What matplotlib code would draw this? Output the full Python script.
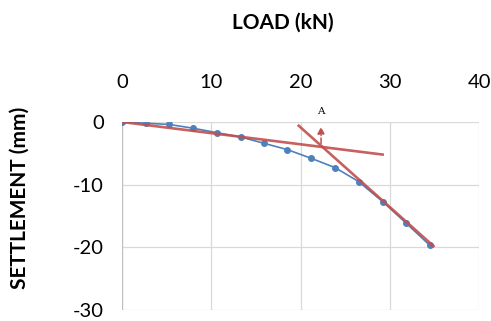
import matplotlib.pyplot as plt

# load-settlement test data
load = [0, 2.7, 5.3, 8.0, 10.6, 13.3, 15.9, 18.5, 21.2, 23.9, 26.5, 29.2, 31.8, 34.5]
settlement = [0, -0.2, -0.4, -1.0, -1.7, -2.4, -3.4, -4.4, -5.8, -7.3, -9.5, -12.7, -16.1, -19.7]

# tangent lines
line1_x = [0, 29.2]
line1_y = [0, -5.2]
line2_x = [19.8, 34.9]
line2_y = [-0.6, -19.8]

# point A
ax_A, ay_A = 22.3, -3.9

xticks = [0, 10, 20, 30, 40]
yticks = [0, -10, -20, -30]

blue = "#4F81BD"
red = "#C0504D"

plt.rcParams['font.family'] = ['Lato', 'DejaVu Sans']
plt.rcParams['axes.unicode_minus'] = False

fig = plt.figure(figsize=(4.91, 3.21), dpi=100)
ax = fig.add_axes([0.2485, 0.0343, 0.7271, 0.5857])

ax.plot(load, settlement, color=blue, lw=1.2, marker='o', ms=4, zorder=3)
ax.plot(line1_x, line1_y, color=red, lw=1.9, alpha=0.9, zorder=4)
ax.plot(line2_x, line2_y, color=red, lw=1.9, alpha=0.9, zorder=4)

# arrow marking A
ax.annotate("", xy=(ax_A, -0.3), xytext=(ax_A, ay_A),
            arrowprops=dict(arrowstyle="-|>", color=red, lw=1.1, ls="--",
                            mutation_scale=10), annotation_clip=False)
ax.text(ax_A, 1.0, "A", ha="center", va="bottom", fontsize=7.5,
        family="DejaVu Serif", clip_on=False)

ax.set_xlim(0, 40)
ax.set_ylim(-30, 0)
ax.set_xticks(xticks)
ax.set_yticks(yticks)
ax.xaxis.tick_top()
ax.tick_params(axis='x', length=0, labelsize=14.5, pad=22)
ax.tick_params(axis='y', length=0, labelsize=14.5, pad=13)
ax.grid(color="#D9D9D9", lw=0.9)
ax.set_axisbelow(True)
for s in ax.spines.values():
    s.set_visible(False)
ax.axvline(0, color="#BFBFBF", lw=0.9, zorder=1)

fig.text(0.576, 0.93, "LOAD (kN)", ha="center", va="center",
         fontsize=15, fontweight="bold")
fig.text(0.04, 0.385, "SETTLEMENT (mm)", ha="center", va="center",
         rotation=90, fontsize=15, fontweight="bold")

plt.savefig("out.png", dpi=100)
